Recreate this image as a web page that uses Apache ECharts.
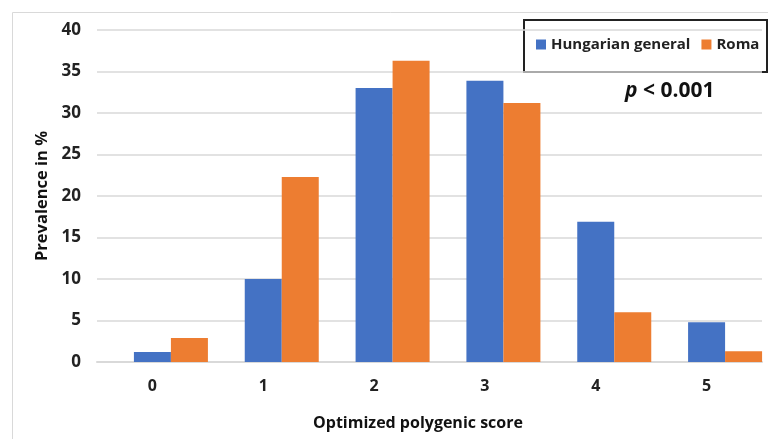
<!DOCTYPE html>
<html><head><meta charset="utf-8">
<script src="https://cdn.jsdelivr.net/npm/echarts@6/dist/echarts.min.js"></script>
<style>html,body{margin:0;padding:0;background:#fff}#c{width:768px;height:439px}</style>
</head><body><div id="c"></div>
<script>
const categories = ['0','1','2','3','4','5'];
const hungarian = [1.2, 10.0, 33.0, 33.9, 16.9, 4.8];
const roma = [2.9, 22.3, 36.3, 31.2, 6.0, 1.3];
const seriesNames = ['Hungarian general','Roma'];
const yTicks = {min:0, max:40, interval:5};
const FONT = 'Open Sans';
// bars sit half a bar-width to the right of the category labels, as in the reference
const shift = 18.5 / 110.83;
const chart = echarts.init(document.getElementById('c'));
chart.setOption({
  animation:false,
  textStyle:{fontFamily:FONT},
  grid:[
    {left:97, right:6, top:30, bottom:77, containLabel:false},
    {left:97, right:6, top:30, bottom:77, containLabel:false}
  ],
  legend:{
    data:seriesNames, left:536, top:37, width:240, orient:'horizontal',
    itemWidth:10, itemHeight:10, itemGap:11, padding:0,
    icon:'rect',
    textStyle:{fontFamily:FONT, fontWeight:'bold', fontSize:15, color:'#222'}
  },
  graphic:[
    {type:'rect', shape:{x:12.5,y:12.5,width:800,height:500}, style:{fill:'none', stroke:'#d9d9d9', lineWidth:1}, z:-1},
    {type:'rect', shape:{x:524,y:20,width:243,height:52}, style:{fill:'#fff', stroke:'#222', lineWidth:2}, z:0},
    {type:'text', left:625, top:81, style:{
      text:'{i|p} < 0.001', font:'bold 21px "Open Sans"', fill:'#111',
      rich:{i:{fontStyle:'italic', fontWeight:'bold', fontSize:21, fontFamily:FONT}}
    }, z:10}
  ],
  xAxis:[{
    type:'category', data:categories, gridIndex:0,
    name:'Optimized polygenic score', nameLocation:'middle', nameGap:53,
    nameTextStyle:{fontFamily:FONT, fontWeight:'bold', fontSize:16, color:'#111', padding:[0,23,0,0]},
    axisLine:{show:true, lineStyle:{color:'#d9d9d9', width:2}},
    axisTick:{show:false},
    axisLabel:{fontFamily:FONT, fontWeight:'bold', fontSize:16, color:'#222', margin:16}
  },{
    type:'value', gridIndex:1, show:false, min:-0.5 - shift, max:categories.length - 0.5 - shift,
    splitLine:{show:false}
  }],
  yAxis:[{
    type:'value', gridIndex:0, min:yTicks.min, max:yTicks.max, interval:yTicks.interval,
    name:'Prevalence in %', nameLocation:'middle', nameGap:46,
    nameTextStyle:{fontFamily:FONT, fontWeight:'bold', fontSize:16.5, color:'#111'},
    axisLine:{show:false}, axisTick:{show:false},
    splitLine:{lineStyle:{color:'#d9d9d9', width:1.5}},
    axisLabel:{fontFamily:FONT, fontWeight:'bold', fontSize:17, color:'#222', margin:16}
  },{
    type:'value', gridIndex:1, min:yTicks.min, max:yTicks.max, interval:yTicks.interval, show:false,
    splitLine:{show:false}
  }],
  series:[
    {name:seriesNames[0], type:'bar', xAxisIndex:1, yAxisIndex:1, data:hungarian.map((v,i)=>[i,v]), itemStyle:{color:'#4472c4'}, barGap:'0%', barWidth:37},
    {name:seriesNames[1], type:'bar', xAxisIndex:1, yAxisIndex:1, data:roma.map((v,i)=>[i,v]), itemStyle:{color:'#ed7d31'}, barGap:'0%', barWidth:37}
  ]
});
</script></body></html>
